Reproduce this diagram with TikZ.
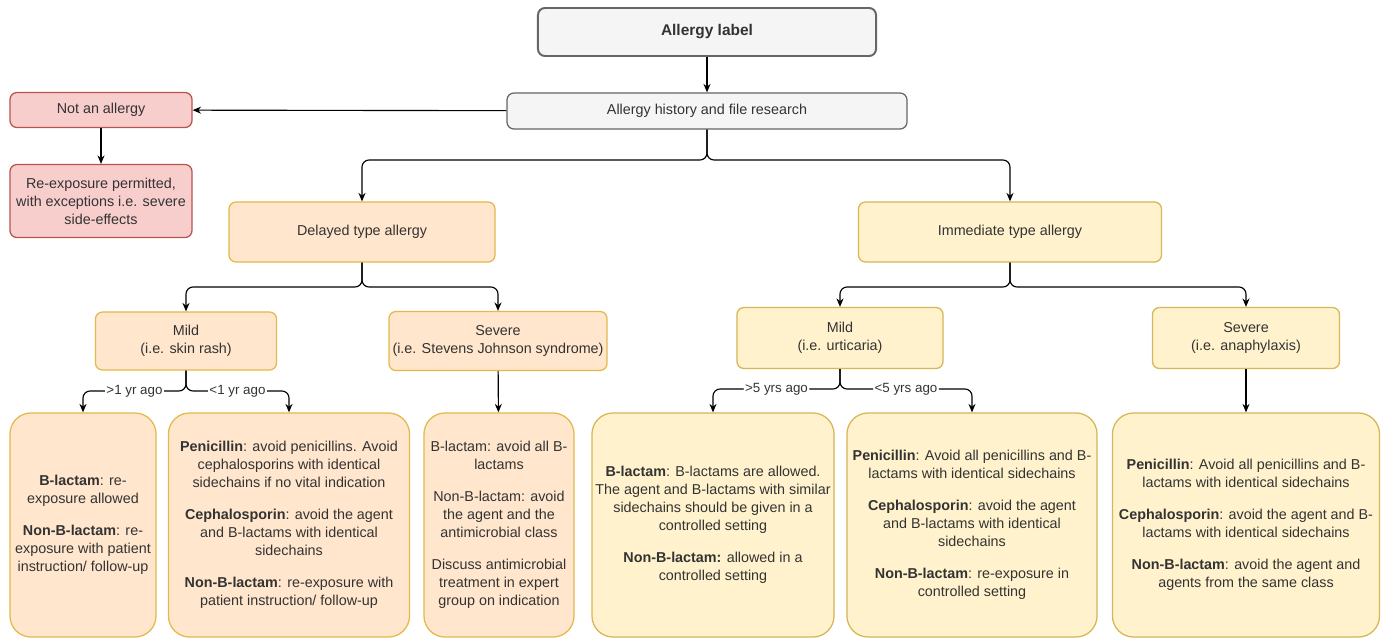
\documentclass[tikz,border=0pt]{standalone}
\usepackage{fontspec}
\setmainfont{Liberation Sans}
\usepackage{tikz}
\usetikzlibrary{arrows.meta}
\usepackage{xcolor}
\definecolor{AllergyText}{HTML}{333333}
\definecolor{AllergyGray}{HTML}{F5F5F5}
\definecolor{AllergyGrayLine}{HTML}{666666}
\definecolor{AllergyRed}{HTML}{F8CECC}
\definecolor{AllergyRedLine}{HTML}{B85450}
\definecolor{AllergyOrange}{HTML}{FFE6CC}
\definecolor{AllergyOrangeLine}{HTML}{D79B00}
\definecolor{AllergyYellow}{HTML}{FFF2CC}
\definecolor{AllergyYellowLine}{HTML}{D6B656}

\begin{document}
\begin{tikzpicture}[
  x=0.025cm,
  y=-0.025cm,
  >=Stealth,
  box/.style={
    draw,
    rounded corners=5pt,
    line width=0.9pt,
    align=center,
    inner sep=1pt,
    text=AllergyText,
    font=\fontsize{10.2}{12.8}\selectfont
  },
  greybox/.style={
    box,
    draw=AllergyGrayLine,
    fill=AllergyGray
  },
  redbox/.style={
    box,
    draw=AllergyRedLine,
    fill=AllergyRed
  },
  delayedbox/.style={
    box,
    draw=AllergyOrangeLine!70,
    fill=AllergyOrange
  },
  immediatebox/.style={
    box,
    draw=AllergyYellowLine,
    fill=AllergyYellow
  },
  advice/.style={
    rounded corners=15pt,
    minimum height=5.6cm
  },
  flow/.style={
    -{Stealth[length=6pt,width=5pt]},
    draw=black,
    line width=0.8pt,
    rounded corners=5pt
  },
  ago/.style={
    fill=white,
    inner sep=1pt,
    font=\fontsize{9.5}{11}\selectfont,
    text=AllergyText
  }
]
\useasboundingbox (0,0) rectangle (1383,640);

\node[greybox,line width=1.4pt,minimum width=8.45cm,minimum height=1.2cm,font=\fontsize{11}{13}\selectfont\bfseries] (label) at (707,32) {Allergy label};
\node[greybox,minimum width=10cm,minimum height=0.9cm] (history) at (707,111) {Allergy history and file research};

\node[redbox,minimum width=4.55cm,minimum height=0.875cm] (notallergy) at (101,110) {Not an allergy};
\node[redbox,minimum width=4.55cm,minimum height=1.825cm] (permitted) at (101,201)
  {Re-exposure permitted,\\ with exceptions i.e. severe\\ side-effects};

\node[delayedbox,minimum width=6.65cm,minimum height=1.5cm] (delayed) at (362,232) {Delayed type allergy};
\node[immediatebox,minimum width=7.575cm,minimum height=1.5cm] (immediate) at (1010,232) {Immediate type allergy};

\node[delayedbox,minimum width=4.525cm,minimum height=1.45cm] (dmild) at (186,341) {Mild\\ (i.e. skin rash)};
\node[delayedbox,minimum width=5.45cm,minimum height=1.475cm] (dsevere) at (498,341) {Severe\\ (i.e. Stevens Johnson syndrome)};
\node[immediatebox,minimum width=5.15cm,minimum height=1.525cm] (imild) at (840,338) {Mild\\ (i.e. urticaria)};
\node[immediatebox,minimum width=4.675cm,minimum height=1.525cm] (isevere) at (1246,338) {Severe\\ (i.e. anaphylaxis)};

\node[delayedbox,advice,minimum width=3.65cm] (dmildold) at (83,525)
  {\textbf{B-lactam}: re-\\ exposure allowed\\[10pt]
   \textbf{Non-B-lactam}: re-\\ exposure with patient\\ instruction/ follow-up};
\node[delayedbox,advice,minimum width=6.025cm] (dmildnew) at (289,525)
  {\textbf{Penicillin}: avoid penicillins. Avoid\\ cephalosporins with identical\\ sidechains if no vital indication\\[10pt]
   \textbf{Cephalosporin}: avoid the agent\\ and B-lactams with identical\\ sidechains\\[10pt]
   \textbf{Non-B-lactam}: re-exposure with\\ patient instruction/ follow-up};
\node[delayedbox,advice,minimum width=3.75cm] (dsevereadv) at (499,525)
  {B-lactam: avoid all B-\\ lactams\\[10pt]
   Non-B-lactam: avoid\\ the agent and the\\ antimicrobial class\\[10pt]
   Discuss antimicrobial\\ treatment in expert\\ group on indication};

\node[immediatebox,advice,minimum width=6.05cm] (imildold) at (713,525)
  {\textbf{B-lactam}: B-lactams are allowed.\\ The agent and B-lactams with similar\\ sidechains should be given in a\\ controlled setting\\[10pt]
   \textbf{Non-B-lactam:} allowed in a\\ controlled setting};
\node[immediatebox,advice,minimum width=6.25cm] (imildnew) at (972,525)
  {\textbf{Penicillin}: Avoid all penicillins and B-\\ lactams with identical sidechains\\[10pt]
   \textbf{Cephalosporin}: avoid the agent\\ and B-lactams with identical\\ sidechains\\[10pt]
   \textbf{Non-B-lactam}: re-exposure in\\ controlled setting};
\node[immediatebox,advice,minimum width=6.675cm] (isevereadv) at (1246,525)
  {\textbf{Penicillin}: Avoid all penicillins and B-\\ lactams with identical sidechains\\[10pt]
   \textbf{Cephalosporin}: avoid the agent and B-\\ lactams with identical sidechains\\[10pt]
   \textbf{Non-B-lactam}: avoid the agent and\\ agents from the same class};

\coordinate (historysplit) at (707,160);
\coordinate (delayedsplit) at (362,287);
\coordinate (immediatesplit) at (1010,287);
\coordinate (dmildsplit) at (186,391);
\coordinate (imildsplit) at (840,389);

\draw[flow] (label) -- (history);
\draw[flow] (history) -- (notallergy);
\draw[flow] (notallergy) -- (permitted);
\draw[flow] (history.south) -- (historysplit) -| (delayed.north);
\draw[flow] (history.south) -- (historysplit) -| (immediate.north);
\draw[flow] (delayed.south) -- (delayedsplit) -| (dmild.north);
\draw[flow] (delayed.south) -- (delayedsplit) -| (dsevere.north);
\draw[flow] (immediate.south) -- (immediatesplit) -| (imild.north);
\draw[flow] (immediate.south) -- (immediatesplit) -| (isevere.north);
\draw[flow] (dmild.south) -- (dmildsplit) -| node[pos=0.25,ago] {>1 yr ago} (dmildold.north);
\draw[flow] (dmild.south) -- (dmildsplit) -| node[pos=0.25,ago] {<1 yr ago} (dmildnew.north);
\draw[flow] (dsevere) -- (dsevereadv);
\draw[flow] (imild.south) -- (imildsplit) -| node[pos=0.25,ago] {>5 yrs ago} (imildold.north);
\draw[flow] (imild.south) -- (imildsplit) -| node[pos=0.25,ago] {<5 yrs ago} (imildnew.north);
\draw[flow] (isevere) -- (isevereadv);

\end{tikzpicture}
\end{document}
